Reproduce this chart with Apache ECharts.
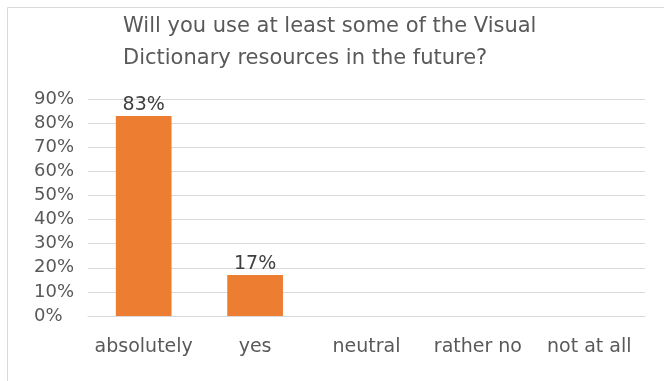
<!DOCTYPE html>
<html>
<head>
<meta charset="utf-8">
<script src="https://cdn.jsdelivr.net/npm/echarts@6/dist/echarts.min.js"></script>
<style>
  html, body { margin: 0; padding: 0; background: #fff; overflow: hidden; }
  #chart { position: absolute; left: 0; top: 0; width: 664px; height: 381px; }
</style>
</head>
<body>
<div id="chart"></div>
<script>
// Survey answers and share of respondents (%)
const categories = ['absolutely', 'yes', 'neutral', 'rather no', 'not at all'];
const shares = [83, 17, 0, 0, 0];
const titleLines = ['Will you use at least some of the Visual', 'Dictionary resources in the future?'];

const FONT = '"DejaVu Sans", sans-serif';
const TEXT = '#595959';
const FRAME = '#d9d9d9';

const chart = echarts.init(document.getElementById('chart'), null, { renderer: 'canvas' });
chart.setOption({
  backgroundColor: '#fff',
  animation: false,
  // chart-area outline (left and top edges fall inside the view)
  graphic: [
    { type: 'line', shape: { x1: 7.5, y1: 7.5, x2: 7.5, y2: 381 }, style: { stroke: FRAME, lineWidth: 1 }, silent: true },
    { type: 'line', shape: { x1: 7.5, y1: 7.5, x2: 664, y2: 7.5 }, style: { stroke: FRAME, lineWidth: 1 }, silent: true }
  ],
  title: {
    text: titleLines.join('\n'),
    left: 118,
    top: 6,
    textStyle: { fontFamily: FONT, fontSize: 21, fontWeight: 'normal', color: TEXT, lineHeight: 32 }
  },
  grid: { left: 88, right: 19, top: 99, bottom: 65, containLabel: false },
  xAxis: {
    type: 'category',
    data: categories,
    axisLine: { show: true, lineStyle: { color: FRAME, width: 1 } },
    axisTick: { show: false },
    axisLabel: { fontFamily: FONT, fontSize: 19, color: TEXT, margin: 22, interval: 0, hideOverlap: false }
  },
  yAxis: {
    type: 'value',
    min: 0,
    max: 90,
    interval: 10,
    axisLine: { show: false },
    axisTick: { show: false },
    splitLine: { lineStyle: { color: FRAME, width: 1 } },
    axisLabel: { fontFamily: FONT, fontSize: 18, color: TEXT, margin: 54, align: 'left', padding: [4, 0, 0, 0], formatter: '{value}%' }
  },
  series: [{
    type: 'bar',
    data: shares.map(v => (v > 0 ? v : null)),
    barCategoryGap: '50%',
    itemStyle: { color: '#ED7D31' },
    label: {
      show: true,
      position: 'top',
      distance: 1,
      fontFamily: FONT,
      fontSize: 19,
      color: '#404040',
      formatter: p => p.value + '%'
    }
  }]
});
</script>
</body>
</html>
